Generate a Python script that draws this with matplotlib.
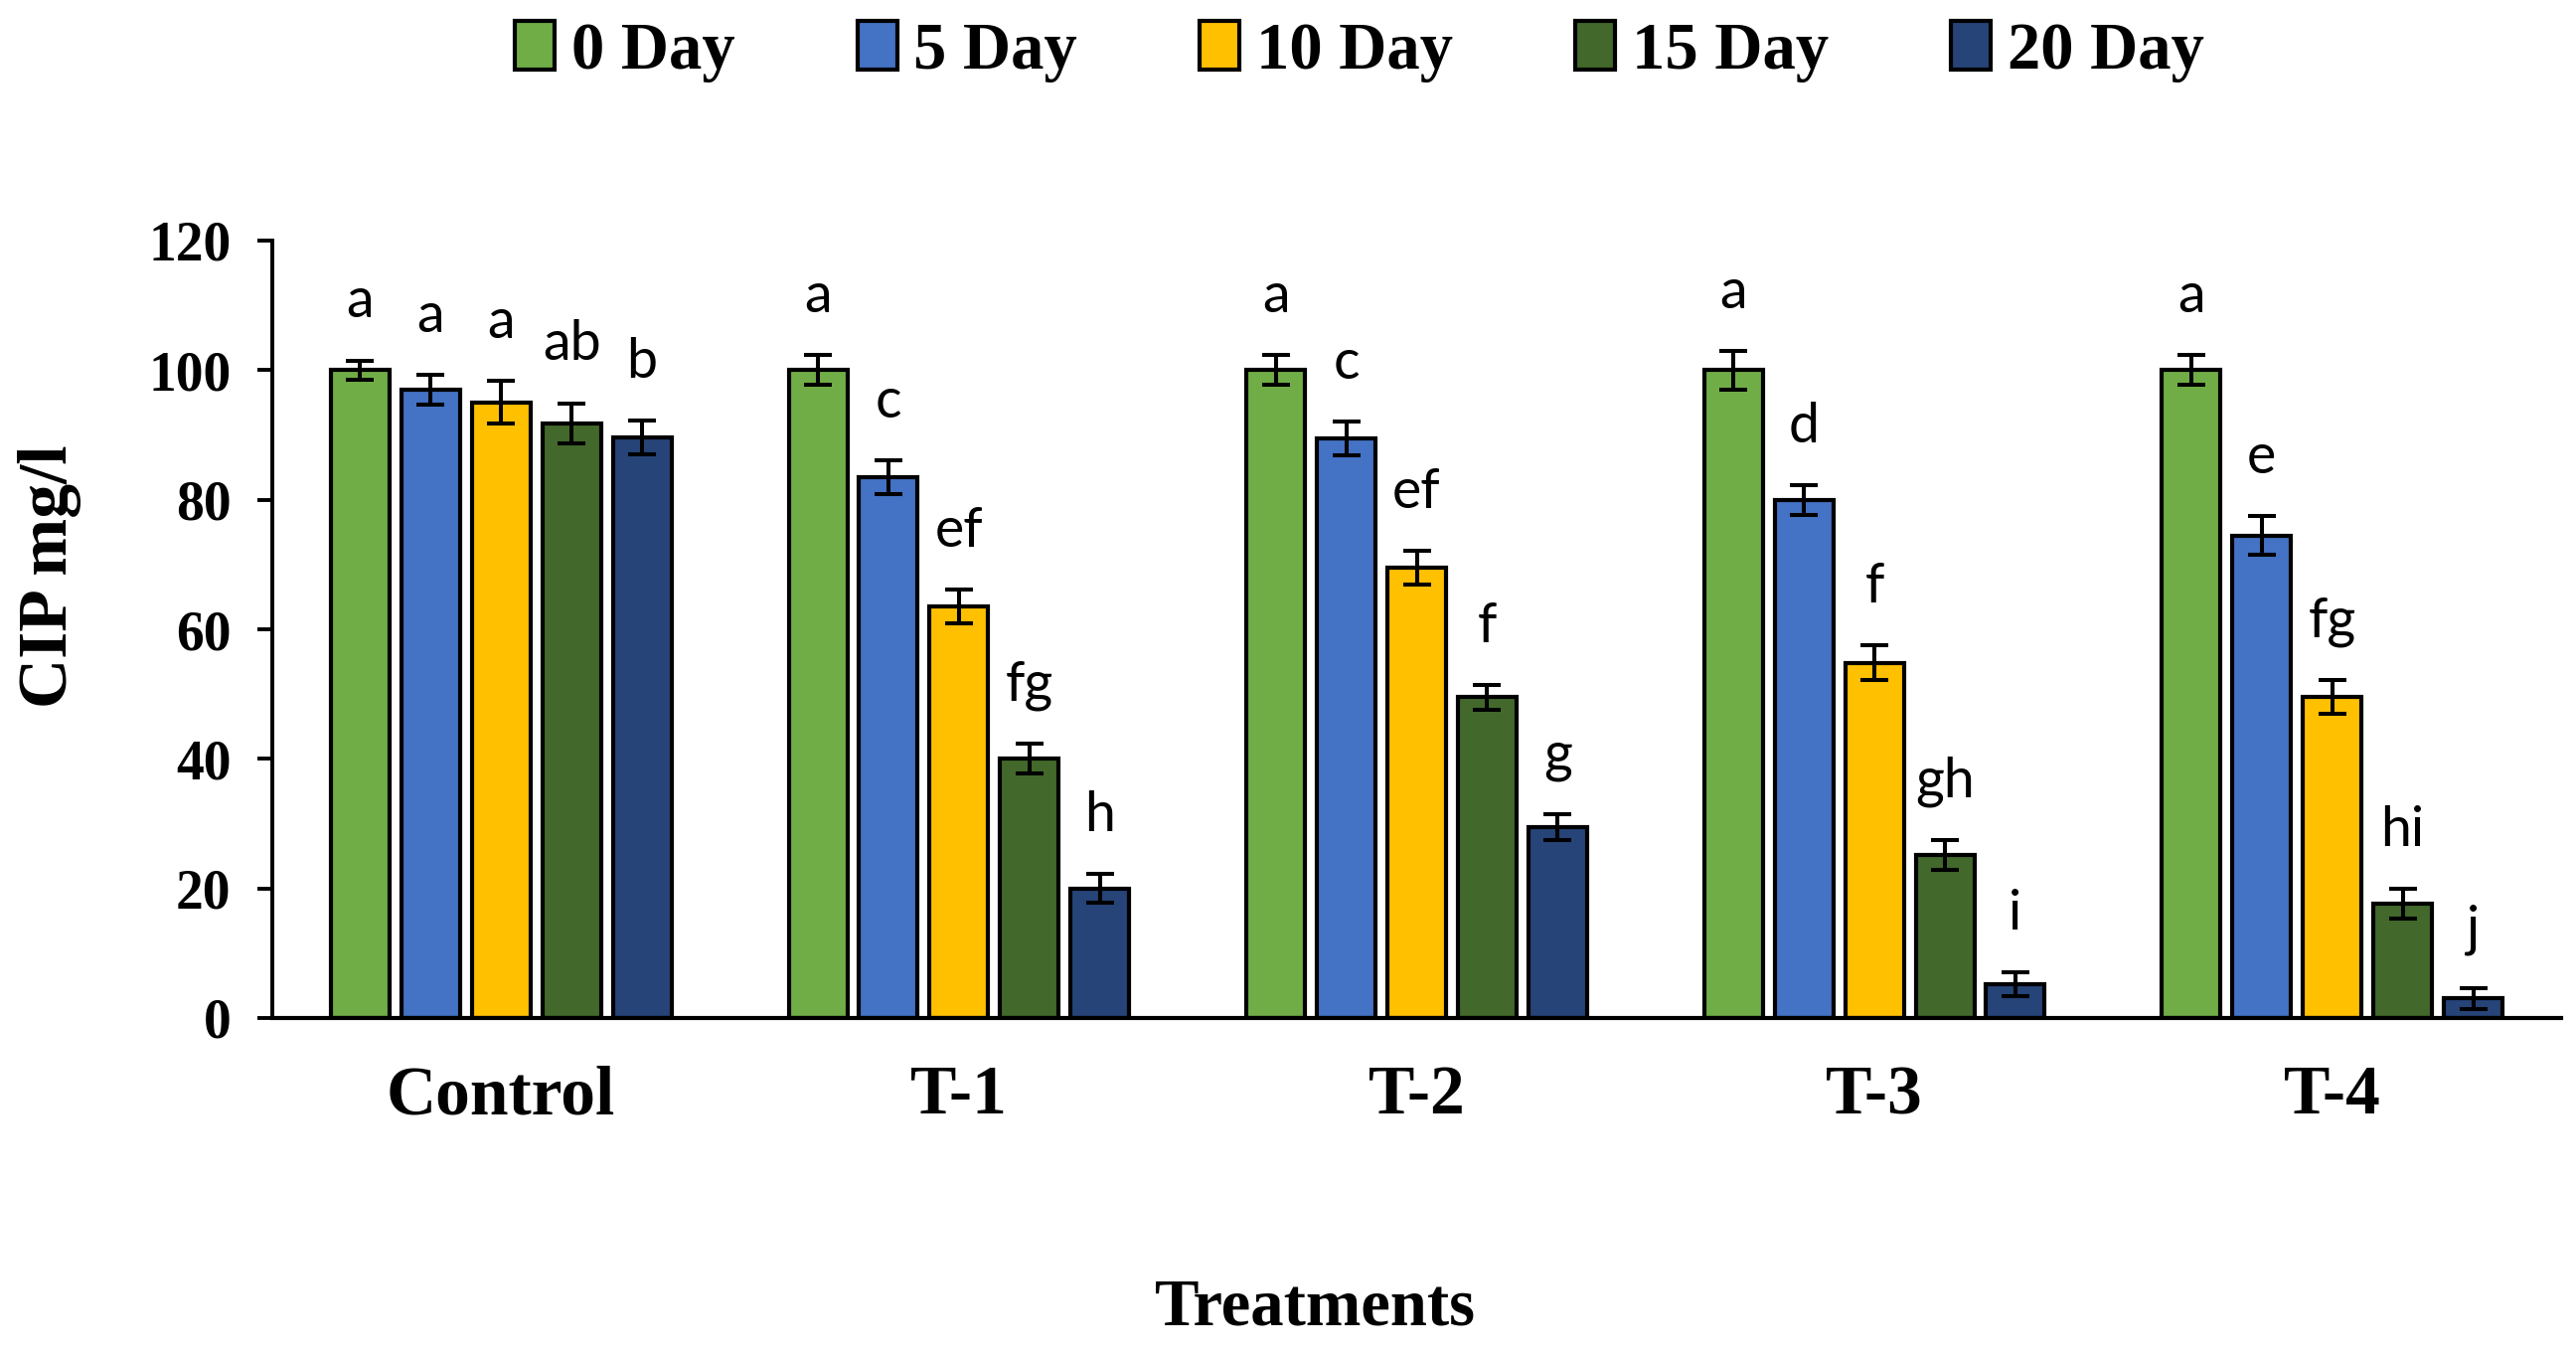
import matplotlib
matplotlib.use("Agg")
import matplotlib.pyplot as plt
import numpy as np

treatments = ["Control", "T-1", "T-2", "T-3", "T-4"]
series_names = ["0 Day", "5 Day", "10 Day", "15 Day", "20 Day"]

# values per series (one entry per treatment)
day0 = [100, 100, 100, 100, 100]
day5 = [97, 83.5, 89.5, 80, 74.5]
day10 = [95, 63.5, 69.5, 54.8, 49.5]
day15 = [91.8, 40, 49.5, 25.2, 17.7]
day20 = [89.6, 20, 29.5, 5.2, 3.0]

err0 = [1.5, 2.3, 2.3, 3.0, 2.3]
err5 = [2.3, 2.6, 2.6, 2.3, 3.0]
err10 = [3.3, 2.6, 2.6, 2.7, 2.6]
err15 = [3.1, 2.3, 1.9, 2.3, 2.3]
err20 = [2.6, 2.2, 2.0, 1.9, 1.6]

lab0 = ["a", "a", "a", "a", "a"]
lab5 = ["a", "c", "c", "d", "e"]
lab10 = ["a", "ef", "ef", "f", "fg"]
lab15 = ["ab", "fg", "f", "gh", "hi"]
lab20 = ["b", "h", "g", "i", "j"]

yticks = [0, 20, 40, 60, 80, 100, 120]

values = [day0, day5, day10, day15, day20]
errors = [err0, err5, err10, err15, err20]
letters = [lab0, lab5, lab10, lab15, lab20]
colors = ["#70AD47", "#4472C4", "#FFC000", "#43682B", "#264478"]

DPI = 200
fig = plt.figure(figsize=(2592 / DPI, 1366 / DPI), dpi=DPI)
ax = fig.add_axes([274 / 2592, 1 - 1024 / 1366, (2577 - 274) / 2592, (1024 - 242) / 1366])

serif = "Liberation Serif"
x = np.arange(len(treatments))
pitch = 0.154
width = 0.128
label_gap = 9.0

for i, (vals, errs, labs, col, name) in enumerate(zip(values, errors, letters, colors, series_names)):
    pos = x + (i - 2) * pitch
    ax.bar(pos, vals, width=width, color=col, edgecolor="black", linewidth=1.5,
           label=name, zorder=2,
           yerr=errs, error_kw=dict(ecolor="black", elinewidth=1.45, capsize=5, capthick=1.45, zorder=3))
    for p, v, e, t in zip(pos, vals, errs, labs):
        ax.text(p, v + e + label_gap, t, ha="center", va="center",
                fontsize=20, family="Lato", color="black")

ax.set_xlim(-0.5, 4.5)
ax.set_ylim(0, 120)
ax.set_yticks(yticks)
ax.set_xticks(x)
ax.set_xticklabels(treatments)
for s in ["top", "right"]:
    ax.spines[s].set_visible(False)
ax.spines["left"].set_linewidth(1.4)
ax.spines["bottom"].set_linewidth(1.5)
ax.tick_params(axis="y", direction="out", length=5.4, width=1.4, pad=9.5)
ax.tick_params(axis="x", length=0, pad=17)
for lbl in ax.get_yticklabels():
    lbl.set_fontfamily(serif)
    lbl.set_fontweight("bold")
    lbl.set_fontsize(20)
for lbl in ax.get_xticklabels():
    lbl.set_fontfamily(serif)
    lbl.set_fontweight("bold")
    lbl.set_fontsize(25)

fig.text(50 / 2592, 1 - 580 / 1366, "CIP mg/l", rotation=90, ha="center", va="center",
         fontsize=25, fontweight="bold", family=serif)
fig.text(1323 / 2592, 1 - 1316 / 1366, "Treatments", ha="center", va="center",
         fontsize=24, fontweight="bold", family=serif)

leg = fig.legend(loc="center", bbox_to_anchor=(1368 / 2592, 1 - 52 / 1366), ncol=5, frameon=False,
                 prop=dict(family=serif, weight="bold", size=24),
                 handlelength=0.6, handleheight=0.75, handletextpad=0.25, columnspacing=1.85)
for h in leg.legend_handles:
    h.set_linewidth(1.5)

fig.savefig("out.png", dpi=DPI, facecolor="white")
